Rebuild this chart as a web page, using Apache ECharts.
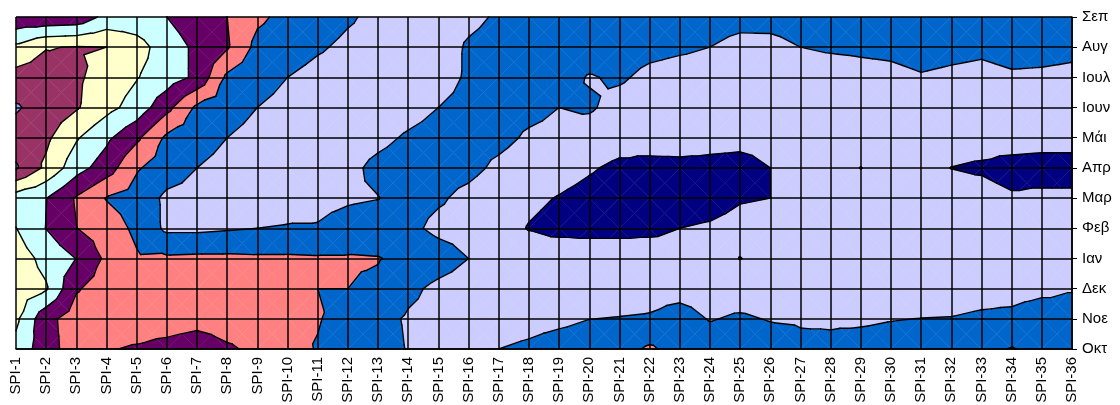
<!DOCTYPE html>
<html><head><meta charset="utf-8">
<script src="https://cdn.jsdelivr.net/npm/echarts@6/dist/echarts.min.js"></script>
<style>html,body{margin:0;padding:0;background:#fff}#c{width:1120px;height:405px}</style>
</head><body><div id="c"></div>
<script>
const categories = ['SPI-1','SPI-2','SPI-3','SPI-4','SPI-5','SPI-6','SPI-7','SPI-8','SPI-9','SPI-10','SPI-11','SPI-12','SPI-13','SPI-14','SPI-15','SPI-16','SPI-17','SPI-18','SPI-19','SPI-20','SPI-21','SPI-22','SPI-23','SPI-24','SPI-25','SPI-26','SPI-27','SPI-28','SPI-29','SPI-30','SPI-31','SPI-32','SPI-33','SPI-34','SPI-35','SPI-36'];
const months = ['Οκτ','Νοε','Δεκ','Ιαν','Φεβ','Μαρ','Απρ','Μάι','Ιουν','Ιουλ','Αυγ','Σεπ'];
const levels = [0.1,0.2,0.3,0.4,0.5,0.6,0.7,0.8];
const bandColors = ['#9999FF','#993366','#FFFFCC','#CCFFFF','#660066','#FF8080','#0066CC','#CCCCFF','#000080'];

const okt  = [.33,.46,.55,.51,.485,.45,.405,.48,.53,.57,.605,.64,.66,.705,.72,.72,.70,.685,.66,.65,.64,.585,.64,.65,.65,.65,.677,.683,.673,.67,.66,.65,.63,.595,.63,.64];
const nov  = [.28,.47,.55,.57,.58,.58,.56,.57,.58,.59,.595,.63,.67,.71,.73,.74,.74,.73,.72,.701,.697,.6925,.666,.705,.6875,.705,.71,.71,.71,.703,.699,.697,.687,.68,.653,.667];
const dek  = [.24,.29,.49,.55,.57,.58,.58,.58,.58,.58,.60,.60,.62,.68,.72,.74,.75,.75,.74,.74,.74,.73,.73,.74,.75,.75,.75,.75,.75,.74,.74,.74,.73,.73,.72,.705];
const ian  = [.25,.33,.402,.52,.59,.585,.58,.58,.585,.585,.59,.59,.595,.63,.66,.70,.72,.74,.73,.72,.72,.73,.74,.76,.802,.77,.75,.74,.74,.74,.74,.74,.74,.74,.74,.74];
const feb  = [.298,.402,.498,.55,.62,.72,.72,.71,.70,.695,.695,.67,.66,.68,.72,.73,.76,.805,.83,.84,.84,.83,.80,.785,.76,.75,.75,.75,.75,.75,.75,.75,.75,.75,.75,.75];
const mar  = [.35,.398,.51,.605,.64,.72,.73,.74,.74,.73,.72,.71,.702,.67,.69,.72,.75,.78,.805,.83,.85,.86,.86,.85,.81,.80,.77,.76,.77,.76,.76,.77,.77,.79,.78,.78];
const apr  = [.09,.22,.36,.45,.59,.65,.70,.73,.74,.75,.75,.72,.68,.66,.67,.68,.715,.74,.76,.79,.82,.84,.84,.84,.84,.80,.77,.78,.801,.78,.78,.801,.81,.83,.84,.84];
const mai  = [.14,.18,.29,.38,.48,.62,.66,.70,.73,.74,.75,.74,.72,.69,.67,.67,.68,.71,.72,.74,.76,.74,.73,.75,.765,.76,.76,.77,.77,.76,.76,.77,.77,.76,.76,.76];
const ioun = [.09,.14,.19,.27,.34,.47,.62,.66,.70,.73,.74,.75,.75,.73,.70,.68,.67,.68,.70,.69,.728,.74,.75,.76,.77,.77,.76,.76,.75,.75,.74,.74,.75,.74,.74,.74];
const ioul = [.16,.15,.185,.24,.295,.35,.42,.62,.66,.70,.727,.74,.75,.75,.73,.69,.67,.665,.67,.705,.69,.718,.727,.73,.75,.75,.74,.74,.73,.723,.707,.717,.725,.711,.714,.72];
const avg  = [.28,.205,.195,.20,.26,.35,.42,.49,.63,.66,.69,.717,.73,.74,.74,.69,.67,.66,.66,.66,.665,.68,.69,.70,.727,.725,.70,.69,.685,.68,.665,.675,.683,.67,.672,.68];
const sep  = [.48,.48,.47,.37,.36,.40,.46,.50,.58,.63,.66,.69,.72,.74,.74,.72,.69,.66,.65,.65,.65,.65,.655,.66,.67,.67,.66,.66,.66,.67,.66,.66,.66,.66,.66,.66];

const rows = [okt, nov, dek, ian, feb, mar, apr, mai, ioun, ioul, avg, sep];
const nx = categories.length, ny = months.length;
const cells = [];
for (let j = 0; j < ny - 1; j++) for (let i = 0; i < nx - 1; i++) cells.push([i, j]);
const EPS = 1e-6;
function val(i, j) { return rows[j][i] + EPS; }
function tris(i, j) {
  const p00 = [i, j, val(i, j)], p10 = [i + 1, j, val(i + 1, j)],
        p11 = [i + 1, j + 1, val(i + 1, j + 1)], p01 = [i, j + 1, val(i, j + 1)];
  const c = [i + 0.5, j + 0.5, (p00[2] + p10[2] + p11[2] + p01[2]) / 4];
  return [[c, p00, p10], [c, p10, p11], [c, p11, p01], [c, p01, p00]];
}
function clip(poly, t, keepAbove) {
  const out = [];
  for (let k = 0; k < poly.length; k++) {
    const a = poly[k], b = poly[(k + 1) % poly.length];
    const ina = keepAbove ? a[2] >= t : a[2] <= t;
    const inb = keepAbove ? b[2] >= t : b[2] <= t;
    if (ina) out.push(a);
    if (ina !== inb) {
      const f = (t - a[2]) / (b[2] - a[2]);
      out.push([a[0] + f * (b[0] - a[0]), a[1] + f * (b[1] - a[1]), t]);
    }
  }
  return out;
}
const bounds = [-Infinity].concat(levels, [Infinity]);
function renderFill(params, api) {
  const i = api.value(0), j = api.value(1);
  const children = [];
  tris(i, j).forEach(t => {
    for (let k = 0; k < bandColors.length; k++) {
      let poly = t;
      if (isFinite(bounds[k])) poly = clip(poly, bounds[k], true);
      if (poly.length < 3) continue;
      if (isFinite(bounds[k + 1])) poly = clip(poly, bounds[k + 1], false);
      if (poly.length < 3) continue;
      children.push({ type: 'polygon', shape: { points: poly.map(p => api.coord([p[0], p[1]])) },
        style: { fill: bandColors[k], stroke: bandColors[k], lineWidth: 0.45 } });
    }
  });
  return { type: 'group', children };
}
function renderLines(params, api) {
  const i = api.value(0), j = api.value(1);
  const children = [];
  tris(i, j).forEach(t => {
    levels.forEach(lv => {
      const pts = [];
      for (let k = 0; k < 3; k++) {
        const a = t[k], b = t[(k + 1) % 3];
        if ((a[2] - lv) * (b[2] - lv) < 0) {
          const f = (lv - a[2]) / (b[2] - a[2]);
          pts.push(api.coord([a[0] + f * (b[0] - a[0]), a[1] + f * (b[1] - a[1])]));
        }
      }
      if (pts.length === 2) children.push({ type: 'line',
        shape: { x1: pts[0][0], y1: pts[0][1], x2: pts[1][0], y2: pts[1][1] },
        style: { stroke: '#000', lineWidth: 1.4, lineCap: 'round' } });
    });
  });
  return { type: 'group', children };
}

const chart = echarts.init(document.getElementById('c'));
chart.setOption({
  animation: false,
  backgroundColor: '#fff',
  grid: { left: 16, top: 17, width: 1056, height: 332, outerBoundsMode: 'none', containLabel: false },
  xAxis: {
    type: 'value', min: 0, max: nx - 1, interval: 1, position: 'bottom', z: 10,
    axisLine: { show: true, onZero: false, lineStyle: { color: '#000', width: 1.5 } },
    axisTick: { show: false },
    axisLabel: { rotate: 90, margin: 8, fontSize: 15, color: '#000', fontFamily: 'Liberation Sans',
      formatter: v => categories[Math.round(v)] },
    splitLine: { show: true, lineStyle: { color: '#000', width: 1.5 } }
  },
  yAxis: {
    type: 'value', min: 0, max: ny - 1, interval: 1, position: 'right', z: 10,
    axisLine: { show: true, onZero: false, lineStyle: { color: '#000', width: 1.5 } },
    axisTick: { show: true, length: 5, lineStyle: { color: '#000', width: 1 } },
    axisLabel: { margin: 10, fontSize: 15, color: '#000', fontFamily: 'Liberation Sans',
      formatter: v => months[Math.round(v)] },
    splitLine: { show: true, lineStyle: { color: '#000', width: 1.5 } }
  },
  series: [
    { type: 'custom', renderItem: renderFill, data: cells, encode: { x: 0, y: 1 }, z: 2, silent: true },
    { type: 'custom', renderItem: renderLines, data: cells, encode: { x: 0, y: 1 }, z: 3, silent: true }
  ]
});
</script></body></html>
